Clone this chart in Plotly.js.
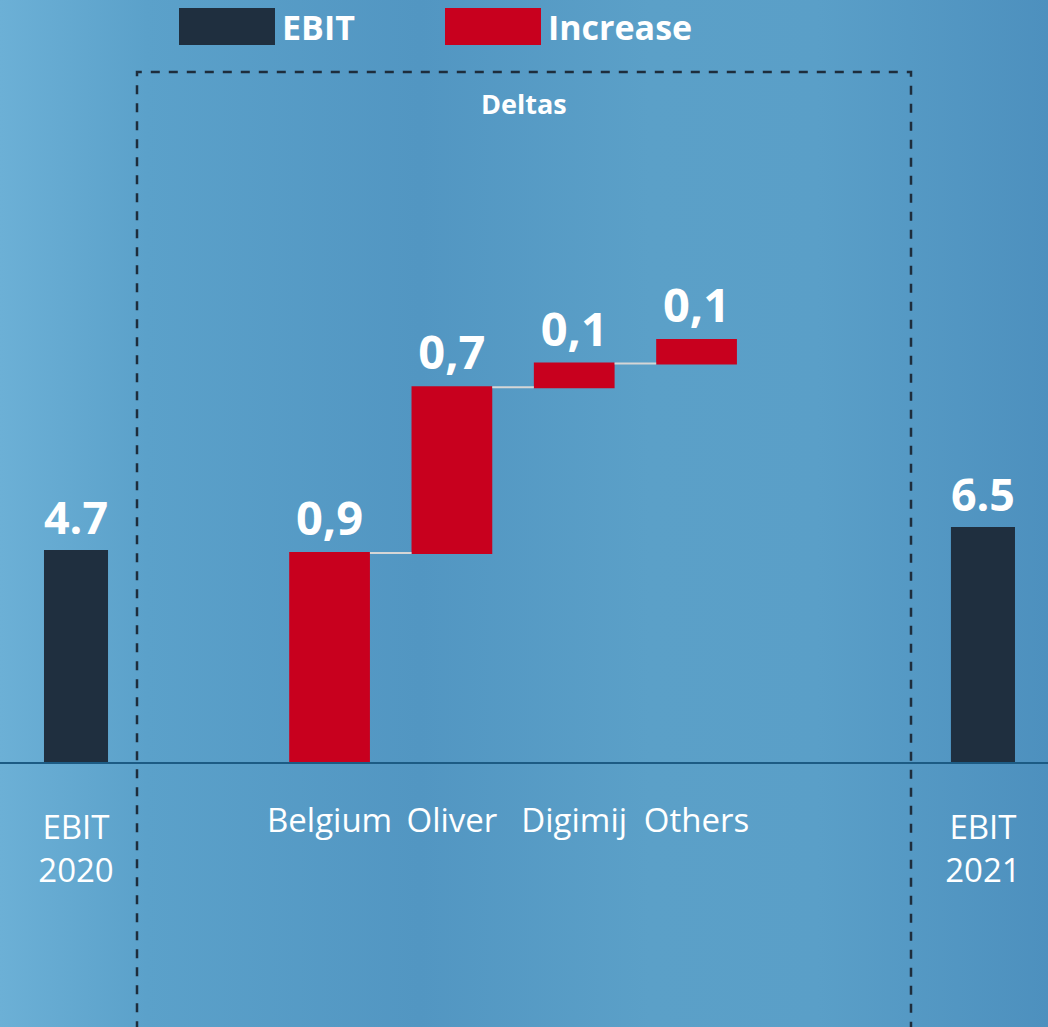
<!DOCTYPE html>
<html>
<head>
<meta charset="utf-8">
<script src="https://cdn.plot.ly/plotly-3.0.1.min.js"></script>
<style>
    html, body {
        margin: 0;
        padding: 0;
        width: 1048px;
        height: 1027px;
        overflow: hidden;
        background: linear-gradient(90deg, #6cb0d6 0%, #5ba1ca 14%, #5296c2 40%, #5ba0c8 62%, #5a9fc8 78%, #4d90be 100%);
    }
    #chart {
        width: 1048px;
        height: 1027px;
    }
</style>
</head>
<body>
<div id="chart"></div>
<script>
const deltaCategories = ['Belgium', 'Oliver', 'Digimij', 'Others'];
const deltaValues = [0.9, 0.7, 0.1, 0.1];

const ebitCategories = ['EBIT 2020', 'EBIT 2021'];
const ebitValues = [4.7, 6.5];

const legendLabels = ['EBIT', 'Increase'];
const boxTitle = 'Deltas';

const colorEbit = '#1f2f3f';
const colorIncrease = '#c8001e';
const fontFamily = '"Open Sans", "DejaVu Sans", sans-serif';

// px helpers: plot area is the full width and the top 762 px
const W = 1048;
const plotH = 762;
const px = x => x / W;
const py = y => (plotH - y) / plotH;

// deltas sit on their own scale, zero a few px under the baseline like the original
const deltaPxPerUnit = 236.7;
const deltaZeroPx = 766;

const deltaText = deltaValues.map(v => v.toFixed(1).replace('.', ','));
const ebitText = ebitValues.map(v => v.toFixed(1));

const deltas = {
    type: 'waterfall',
    x: deltaCategories,
    y: deltaValues,
    measure: deltaValues.map(() => 'relative'),
    base: 0,
    width: 0.66,
    xaxis: 'x',
    yaxis: 'y',
    text: deltaText,
    textinfo: 'text',
    textposition: 'outside',
    cliponaxis: false,
    textfont: {family: fontFamily, size: 47, color: 'white', weight: 'bold'},
    increasing: {marker: {color: colorIncrease}},
    connector: {mode: 'between', line: {color: '#d6d6d6', width: 2}},
    hoverinfo: 'skip',
    showlegend: false,
};

const ebit = {
    type: 'bar',
    x: ebitCategories,
    y: ebitValues,
    width: 0.0706,
    xaxis: 'x2',
    yaxis: 'y2',
    marker: {color: colorEbit},
    text: ebitText,
    textposition: 'outside',
    cliponaxis: false,
    textfont: {family: fontFamily, size: 47, color: 'white', weight: 'bold'},
    hoverinfo: 'skip',
    showlegend: false,
};

const layout = {
    width: 1048,
    height: 1027,
    margin: {l: 0, r: 0, t: 0, b: 1027 - plotH},
    paper_bgcolor: 'rgba(0,0,0,0)',
    plot_bgcolor: 'rgba(0,0,0,0)',
    showlegend: false,
    font: {family: fontFamily, color: 'white'},
    xaxis: {
        type: 'category',
        range: [-2.694, 5.873],
        showgrid: false,
        zeroline: false,
        showline: true,
        linecolor: '#1c5b84',
        linewidth: 2,
        ticks: '',
        ticklabelstandoff: 28,
        tickfont: {family: fontFamily, size: 33, color: 'white'},
    },
    xaxis2: {
        type: 'category',
        overlaying: 'x',
        anchor: 'y2',
        side: 'bottom',
        range: [-0.0838, 1.0717],
        showgrid: false,
        zeroline: false,
        showline: false,
        ticks: '',
        tickvals: ebitCategories,
        ticktext: ebitCategories.map(c => c.replace(' ', '<br>')),
        ticklabelstandoff: 43,
        tickfont: {family: fontFamily, size: 33, color: 'white'},
    },
    yaxis: {
        range: [(deltaZeroPx - plotH) / deltaPxPerUnit, deltaZeroPx / deltaPxPerUnit],
        showgrid: false,
        zeroline: false,
        showticklabels: false,
        showline: false,
    },
    yaxis2: {
        type: 'log',
        overlaying: 'y',
        range: [-0.626, 4.04],
        showgrid: false,
        zeroline: false,
        showticklabels: false,
        showline: false,
    },
    shapes: [
        {
            type: 'rect', xref: 'paper', yref: 'paper',
            x0: px(137), x1: px(911), y0: -0.4, y1: py(72),
            line: {color: '#1e2d3c', width: 2.5, dash: 'dash'},
        },
        {
            type: 'rect', xref: 'paper', yref: 'paper',
            x0: px(179), x1: px(275), y0: py(45), y1: py(8),
            fillcolor: colorEbit, line: {width: 0},
        },
        {
            type: 'rect', xref: 'paper', yref: 'paper',
            x0: px(445), x1: px(541), y0: py(45), y1: py(8),
            fillcolor: colorIncrease, line: {width: 0},
        },
    ],
    annotations: [
        {
            text: boxTitle, xref: 'paper', yref: 'paper',
            x: 0.5, y: py(103), yanchor: 'middle', showarrow: false,
            font: {family: fontFamily, size: 27, color: 'white', weight: 'bold'},
        },
        {
            text: legendLabels[0], xref: 'paper', yref: 'paper',
            x: px(280), y: py(27), xanchor: 'left', yanchor: 'middle', showarrow: false,
            font: {family: fontFamily, size: 34, color: 'white', weight: 'bold'},
        },
        {
            text: legendLabels[1], xref: 'paper', yref: 'paper',
            x: px(546), y: py(27), xanchor: 'left', yanchor: 'middle', showarrow: false,
            font: {family: fontFamily, size: 34, color: 'white', weight: 'bold'},
        },
    ],
};

Plotly.newPlot('chart', [deltas, ebit], layout, {displayModeBar: false, staticPlot: true});
</script>
</body>
</html>
